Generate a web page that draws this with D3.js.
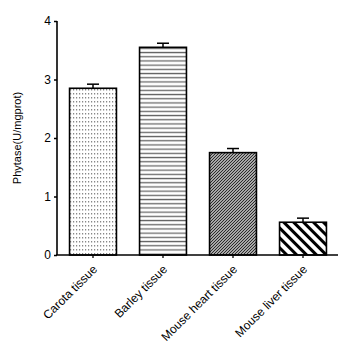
<!DOCTYPE html>
<html>
<head>
<meta charset="utf-8">
<script src="https://cdn.jsdelivr.net/npm/d3@7"></script>
<style>
  body { margin: 0; background: #fff; }
  svg { display: block; }
  text { font-family: "Liberation Sans", Arial, sans-serif; }
</style>
</head>
<body>
<div id="chart"></div>
<script>
// Data
var categories = ["Carota tissue", "Barley tissue", "Mouse heart tissue", "Mouse liver tissue"];
var means = [2.85, 3.55, 1.75, 0.56];
var errors = [0.07, 0.07, 0.07, 0.07];
var yTicks = [0, 1, 2, 3, 4];
var patterns = ["dots", "hlines", "densediag", "widediag"];

var width = 346, height = 353;
var margin = { left: 57, right: 8, top: 21, bottom: 98 };

var svg = d3.select("#chart")
    .append("svg")
    .attr("width", width)
    .attr("height", height);

// Fill patterns
var defs = svg.append("defs");

var p1 = defs.append("pattern").attr("id", "dots")
    .attr("patternUnits", "userSpaceOnUse").attr("width", 3).attr("height", 4);
p1.append("rect").attr("width", 3).attr("height", 4).attr("fill", "#fff");
p1.append("rect").attr("x", 1).attr("y", 1).attr("width", 1.2).attr("height", 1.5).attr("fill", "#888");

var p2 = defs.append("pattern").attr("id", "hlines")
    .attr("patternUnits", "userSpaceOnUse").attr("width", 8).attr("height", 4.2);
p2.append("rect").attr("width", 8).attr("height", 4.2).attr("fill", "#fff");
p2.append("rect").attr("y", 1.5).attr("width", 8).attr("height", 1.3).attr("fill", "#666");

var p3 = defs.append("pattern").attr("id", "densediag")
    .attr("patternUnits", "userSpaceOnUse").attr("width", 3).attr("height", 3);
p3.append("rect").attr("width", 3).attr("height", 3).attr("fill", "#ddd");
p3.append("path").attr("d", "M-1,1 L1,-1 M0,3 L3,0 M2,4 L4,2")
    .attr("stroke", "#222").attr("stroke-width", 1.1);

var p4 = defs.append("pattern").attr("id", "widediag")
    .attr("patternUnits", "userSpaceOnUse").attr("width", 7).attr("height", 7)
    .attr("patternTransform", "rotate(-45)");
p4.append("rect").attr("width", 7).attr("height", 7).attr("fill", "#fff");
p4.append("rect").attr("x", 0).attr("width", 3).attr("height", 7).attr("fill", "#000");

// Scales
var x = d3.scaleBand()
    .domain(categories)
    .range([margin.left + 1, width - margin.right])
    .paddingInner(0.33)
    .paddingOuter(0.165);

var y = d3.scaleLinear()
    .domain([0, 4])
    .range([height - margin.bottom, margin.top]);

var data = categories.map(function (c, i) {
    return { name: c, mean: means[i], err: errors[i], pat: patterns[i] };
});

// Bars
svg.selectAll("rect.bar")
    .data(data)
    .enter()
    .append("rect")
    .attr("class", "bar")
    .attr("x", function (d) { return x(d.name); })
    .attr("y", function (d) { return y(d.mean); })
    .attr("width", x.bandwidth())
    .attr("height", function (d) { return y(0) - y(d.mean); })
    .attr("fill", function (d) { return "url(#" + d.pat + ")"; })
    .attr("stroke", "#000")
    .attr("stroke-width", 1.6);

// Error bars (upper only)
var eb = svg.selectAll("g.err")
    .data(data)
    .enter()
    .append("g")
    .attr("class", "err");

eb.append("line")
    .attr("x1", function (d) { return x(d.name) + x.bandwidth() / 2; })
    .attr("x2", function (d) { return x(d.name) + x.bandwidth() / 2; })
    .attr("y1", function (d) { return y(d.mean); })
    .attr("y2", function (d) { return y(d.mean + d.err); })
    .attr("stroke", "#000").attr("stroke-width", 1.5);

eb.append("line")
    .attr("x1", function (d) { return x(d.name) + x.bandwidth() / 2 - 6; })
    .attr("x2", function (d) { return x(d.name) + x.bandwidth() / 2 + 6; })
    .attr("y1", function (d) { return y(d.mean + d.err); })
    .attr("y2", function (d) { return y(d.mean + d.err); })
    .attr("stroke", "#000").attr("stroke-width", 1.5);

// Y axis
var yAxis = svg.append("g")
    .attr("transform", "translate(" + margin.left + ",0)")
    .call(d3.axisLeft(y).tickValues(yTicks).tickSize(3).tickPadding(3).tickFormat(d3.format("d")));
yAxis.select(".domain").attr("stroke-width", 1.6).attr("d", "M0," + y(0) + "V" + y(4));
yAxis.selectAll(".tick line").attr("stroke-width", 1.5);
yAxis.selectAll("text").style("font-size", "12px").attr("fill", "#000");

// X axis
var xAxis = svg.append("g")
    .attr("transform", "translate(0," + y(0) + ")")
    .call(d3.axisBottom(x).tickSize(3).tickSizeOuter(0));
xAxis.select(".domain").attr("stroke-width", 1.6)
    .attr("d", "M" + (margin.left - 1) + ",0H" + (width - margin.right));
xAxis.selectAll(".tick line").attr("stroke-width", 1.3);
xAxis.selectAll("text")
    .style("font-size", "12px")
    .attr("fill", "#000")
    .attr("text-anchor", "end")
    .attr("dy", "0.35em")
    .attr("transform", "translate(2,12) rotate(-45)")
    .attr("x", 0)
    .attr("y", 0);

// Y axis title
svg.append("text")
    .attr("transform", "translate(21," + (y(0) + y(4)) / 2 + ") rotate(-90)")
    .attr("text-anchor", "middle")
    .style("font-size", "11px")
    .text("Phytase(U/mgprot)");
</script>
</body>
</html>
